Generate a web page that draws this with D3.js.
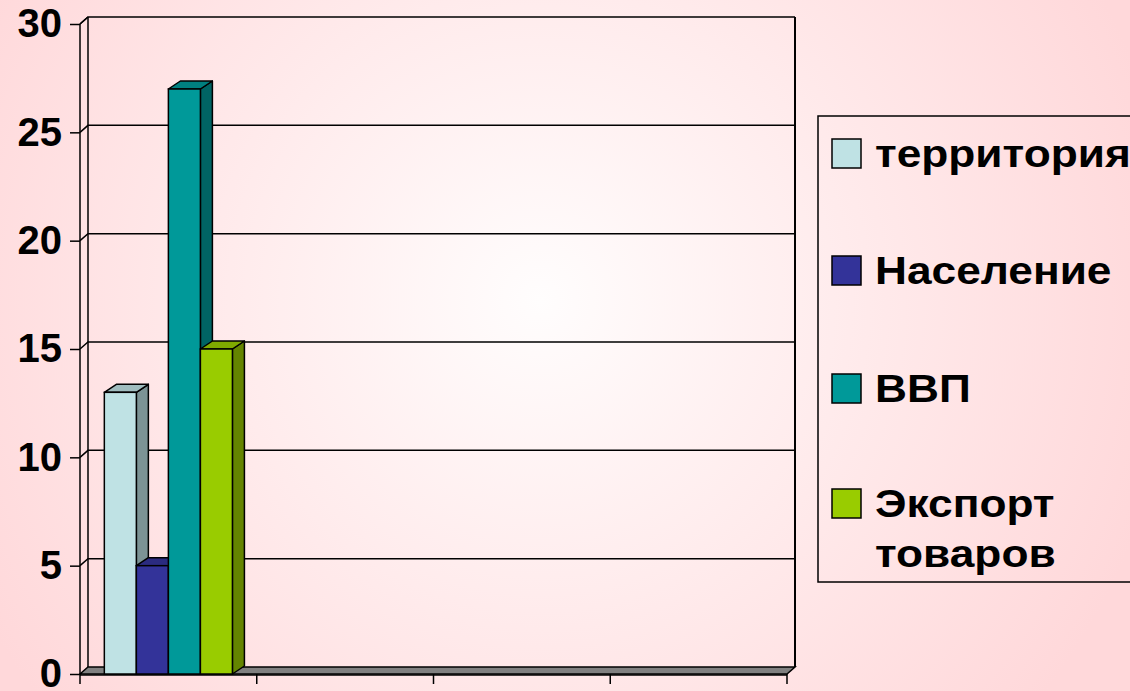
<!DOCTYPE html>
<html>
<head>
<meta charset="utf-8">
<script src="https://cdn.jsdelivr.net/npm/d3@7"></script>
<style>
  html, body { margin: 0; padding: 0; }
  svg { display: block; }
</style>
</head>
<body>
<svg id="chart" width="1130" height="691"></svg>
<script>
// data
const categories = ['1', '2', '3', '4'];
const seriesNames = ['территория', 'Население', 'ВВП', 'Экспорт товаров'];
const territory = [13, null, null, null];
const population = [5, null, null, null];
const gdp = [27, null, null, null];
const exportGoods = [15, null, null, null];
const yTicks = [0, 5, 10, 15, 20, 25, 30];

const seriesValues = [territory, population, gdp, exportGoods];
const colors = ['#bfe2e4', '#333399', '#009999', '#99cc00'];

const svg = d3.select('#chart');
const W = 1130, H = 691;

// background
const defs = svg.append('defs');
const bg = defs.append('radialGradient').attr('id', 'bg')
  .attr('gradientUnits', 'userSpaceOnUse')
  .attr('cx', 540).attr('cy', 300).attr('r', 640);
bg.append('stop').attr('offset', '0%').attr('stop-color', '#fffdfd');
bg.append('stop').attr('offset', '100%').attr('stop-color', '#ffd8da');
svg.append('rect').attr('width', W).attr('height', H).attr('fill', 'url(#bg)');

// plot geometry
const x0 = 80, x1 = 787;
const depth = { dx: 8, dy: -7 };   // wall depth
const bar3d = { dx: 12, dy: -8 };  // column depth

const x = d3.scaleBand().domain(categories).range([x0, x1]);
const xs = d3.scaleBand().domain(seriesNames).range([0, x.bandwidth()])
  .paddingOuter(0.76).paddingInner(0);
const y = d3.scaleLinear().domain([0, 30]).range([674, 24]);

const g = svg.append('g');

// floor
const floorY = y(0);
g.append('polygon')
  .attr('points', [[x0, floorY], [x1, floorY], [x1 + depth.dx, floorY + depth.dy], [x0 + depth.dx, floorY + depth.dy]].join(' '))
  .attr('fill', '#808080').attr('stroke', '#000').attr('stroke-width', 1.5);

// gridlines (left wall + back wall)
g.append('g').selectAll('polyline').data(yTicks.filter(d => d > 0)).join('polyline')
  .attr('points', d => [[x0, y(d)], [x0 + depth.dx, y(d) + depth.dy], [x1 + depth.dx, y(d) + depth.dy]].join(' '))
  .attr('fill', 'none').attr('stroke', '#000').attr('stroke-width', 1.5);

// wall edges
g.append('line')
  .attr('x1', x0 + depth.dx).attr('x2', x0 + depth.dx)
  .attr('y1', y(30) + depth.dy).attr('y2', y(0) + depth.dy)
  .attr('stroke', '#000').attr('stroke-width', 1.5);
g.append('line')
  .attr('x1', x1 + depth.dx).attr('x2', x1 + depth.dx)
  .attr('y1', y(30) + depth.dy).attr('y2', y(0) + depth.dy)
  .attr('stroke', '#000').attr('stroke-width', 2);

// columns
const bars = [];
seriesValues.forEach((vals, si) => {
  vals.forEach((v, ci) => {
    if (v == null) return;
    bars.push({ s: seriesNames[si], c: categories[ci], v, color: colors[si] });
  });
});

const barG = g.append('g').selectAll('g').data(bars).join('g');
barG.each(function (d) {
  const el = d3.select(this);
  const bx = x(d.c) + xs(d.s), bw = xs.bandwidth();
  const top = y(d.v), bot = y(0);
  const c = d3.color(d.color);
  const dx = bar3d.dx, dy = bar3d.dy;
  // side
  el.append('polygon')
    .attr('points', [[bx + bw, bot], [bx + bw + dx, bot + dy], [bx + bw + dx, top + dy], [bx + bw, top]].join(' '))
    .attr('fill', c.darker(1.2)).attr('stroke', '#000').attr('stroke-width', 1.5).attr('stroke-linejoin', 'round');
  // top
  el.append('polygon')
    .attr('points', [[bx, top], [bx + dx, top + dy], [bx + bw + dx, top + dy], [bx + bw, top]].join(' '))
    .attr('fill', c.darker(0.5)).attr('stroke', '#000').attr('stroke-width', 1.5).attr('stroke-linejoin', 'round');
  // front
  el.append('rect')
    .attr('x', bx).attr('y', top).attr('width', bw).attr('height', bot - top)
    .attr('fill', d.color).attr('stroke', '#000').attr('stroke-width', 1.5);
});

// front y axis
const yAxis = g.append('g').attr('transform', `translate(${x0},0)`)
  .call(d3.axisLeft(y).tickValues(yTicks).tickSize(10).tickPadding(8).tickFormat(d3.format('d')));
yAxis.select('.domain').attr('stroke-width', 1.5).attr('d', `M-0,${y(30)}V${y(0)}`);
yAxis.selectAll('.tick line').attr('stroke-width', 1.5);
yAxis.selectAll('.tick text')
  .attr('font-family', 'Liberation Sans, Arial, sans-serif')
  .attr('font-size', 40).attr('font-weight', 'bold').attr('fill', '#000');

// top-left corner edge
g.append('line')
  .attr('x1', x0).attr('y1', y(30)).attr('x2', x0 + depth.dx).attr('y2', y(30) + depth.dy)
  .attr('stroke', '#000').attr('stroke-width', 1.5);

// x axis ticks at category boundaries
const bounds = categories.map(c => x(c)).concat([x(categories[categories.length - 1]) + x.bandwidth()]);
g.append('line').attr('x1', x0).attr('x2', x1).attr('y1', floorY + 1).attr('y2', floorY + 1)
  .attr('stroke', '#000').attr('stroke-width', 1.5);
g.append('g').selectAll('line').data(bounds).join('line')
  .attr('x1', d => d).attr('x2', d => d)
  .attr('y1', floorY).attr('y2', floorY + 10)
  .attr('stroke', '#000').attr('stroke-width', 1.5);

// legend
const legend = svg.append('g');
legend.append('rect')
  .attr('x', 818).attr('y', 116).attr('width', 340).attr('height', 466)
  .attr('fill', 'none').attr('stroke', '#000').attr('stroke-width', 1.5);

const legendY = [153, 270, 388, 503];
const item = legend.selectAll('g.item').data(seriesNames).join('g').attr('class', 'item')
  .attr('transform', (d, i) => `translate(832,${legendY[i]})`);
item.append('rect')
  .attr('x', 0).attr('y', -14).attr('width', 29).attr('height', 29)
  .attr('fill', (d, i) => colors[i]).attr('stroke', '#000').attr('stroke-width', 1.5);
item.append('text')
  .attr('transform', 'translate(43,0) scale(1.15,1)')
  .attr('font-family', 'Liberation Sans, Arial, sans-serif')
  .attr('font-size', 38.5).attr('font-weight', 'bold').attr('fill', '#000')
  .attr('dominant-baseline', 'central')
  .each(function (d) {
    const words = d.split(' ');
    const t = d3.select(this);
    words.forEach((w, k) => {
      t.append('tspan').attr('x', 0).attr('dy', k === 0 ? 0 : 50).text(w);
    });
  });
</script>
</body>
</html>
